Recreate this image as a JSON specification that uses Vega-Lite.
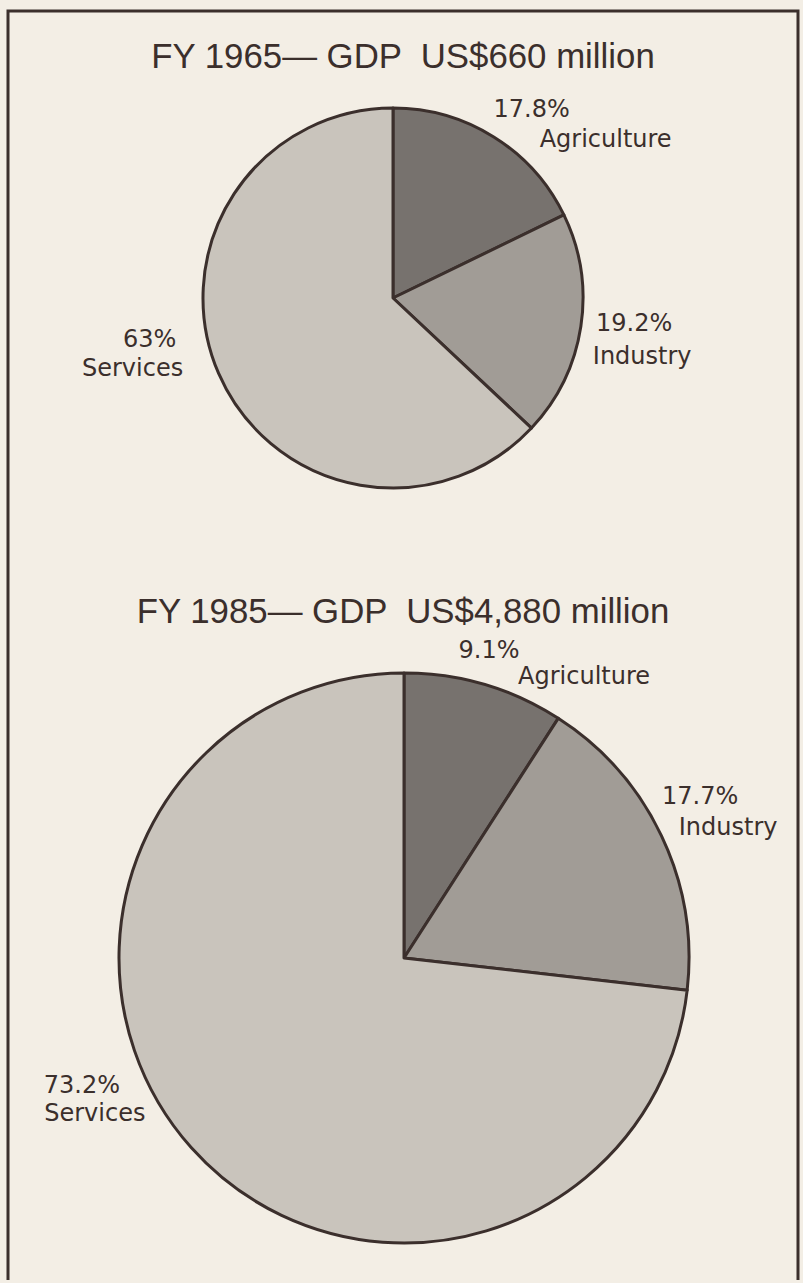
{
  "$schema": "https://vega.github.io/schema/vega-lite/v6.json",
  "width": 803,
  "height": 1283,
  "autosize": {"type": "fit", "contains": "padding"},
  "padding": {"left": 6, "top": 9, "right": 3, "bottom": 0},
  "background": "#f3eee5",
  "config": {
    "view": {"stroke": null},
    "text": {"color": "#3b2f2c"}
  },
  "datasets": {
    "gdp": [
      {"year": "FY 1965", "sector": "Agriculture", "share": 17.8, "pct": "17.8%"},
      {"year": "FY 1965", "sector": "Industry", "share": 19.2, "pct": "19.2%"},
      {"year": "FY 1965", "sector": "Services", "share": 63, "pct": "63%"},
      {"year": "FY 1985", "sector": "Agriculture", "share": 9.1, "pct": "9.1%"},
      {"year": "FY 1985", "sector": "Industry", "share": 17.7, "pct": "17.7%"},
      {"year": "FY 1985", "sector": "Services", "share": 73.2, "pct": "73.2%"}
    ],
    "titles": [
      {"year": "FY 1965", "title": "FY 1965— GDP \u00a0US$660 million"},
      {"year": "FY 1985", "title": "FY 1985— GDP \u00a0US$4,880 million"}
    ],
    "frame": [{"name": "border"}]
  },
  "layer": [
    {
      "data": {"name": "frame"},
      "mark": {"type": "rect", "fillOpacity": 0, "stroke": "#3b2f2c", "strokeWidth": 3, "strokeDash": [2059, 792, 1400, 1]},
      "encoding": {}
    },
    {
      "data": {"name": "gdp"},
      "transform": [{"filter": "datum.year === 'FY 1965'"}],
      "mark": {"type": "arc", "radius": 190, "xOffset": -10, "yOffset": -348, "stroke": "#3b2f2c", "strokeWidth": 3, "strokeJoin": "round"},
      "encoding": {
        "theta": {"field": "share", "type": "quantitative", "stack": true},
        "color": {"field": "sector", "type": "nominal", "scale": {"domain": ["Agriculture", "Industry", "Services"], "range": ["#77726e", "#a19c96", "#c9c4bc"]}, "legend": null},
        "order": {"field": "sector"}
      }
    },
    {
      "data": {"name": "gdp"},
      "transform": [{"filter": "datum.year === 'FY 1985'"}],
      "mark": {"type": "arc", "radius": 285, "xOffset": 1, "yOffset": 312, "stroke": "#3b2f2c", "strokeWidth": 3, "strokeJoin": "round"},
      "encoding": {
        "theta": {"field": "share", "type": "quantitative", "stack": true},
        "color": {"field": "sector", "type": "nominal", "legend": null},
        "order": {"field": "sector"}
      }
    },
    {
      "data": {"name": "gdp"},
      "transform": [{"filter": "datum.year === 'FY 1965'"}],
      "mark": {"type": "text", "radius": 250, "xOffset": -10, "yOffset": -348, "font": "DejaVu Sans", "fontSize": 24, "align": "center", "baseline": "middle",
        "dx": {"expr": "datum.sector === 'Agriculture' ? 6 : datum.sector === 'Industry' ? -6 : -14"},
        "dy": {"expr": "datum.sector === 'Agriculture' ? 24 : datum.sector === 'Industry' ? -12 : -57"}},
      "encoding": {
        "theta": {"field": "share", "type": "quantitative", "stack": true},
        "order": {"field": "sector"},
        "text": {"field": "pct"}
      }
    },
    {
      "data": {"name": "gdp"},
      "transform": [{"filter": "datum.year === 'FY 1965'"}],
      "mark": {"type": "text", "radius": 250, "xOffset": -10, "yOffset": -348, "font": "DejaVu Sans", "fontSize": 24, "align": "center", "baseline": "middle",
        "dx": {"expr": "datum.sector === 'Agriculture' ? 80 : datum.sector === 'Industry' ? 2 : -31"},
        "dy": {"expr": "datum.sector === 'Agriculture' ? 54 : datum.sector === 'Industry' ? 21 : -28"}},
      "encoding": {
        "theta": {"field": "share", "type": "quantitative", "stack": true},
        "order": {"field": "sector"},
        "text": {"field": "sector"}
      }
    },
    {
      "data": {"name": "gdp"},
      "transform": [{"filter": "datum.year === 'FY 1985'"}],
      "mark": {"type": "text", "radius": 330, "xOffset": 1, "yOffset": 312, "font": "DejaVu Sans", "fontSize": 24, "align": "center", "baseline": "middle",
        "dx": {"expr": "datum.sector === 'Agriculture' ? -8 : datum.sector === 'Industry' ? -2 : -76"},
        "dy": {"expr": "datum.sector === 'Agriculture' ? 10 : datum.sector === 'Industry' ? -20 : -92"}},
      "encoding": {
        "theta": {"field": "share", "type": "quantitative", "stack": true},
        "order": {"field": "sector"},
        "text": {"field": "pct"}
      }
    },
    {
      "data": {"name": "gdp"},
      "transform": [{"filter": "datum.year === 'FY 1985'"}],
      "mark": {"type": "text", "radius": 330, "xOffset": 1, "yOffset": 312, "font": "DejaVu Sans", "fontSize": 24, "align": "center", "baseline": "middle",
        "dx": {"expr": "datum.sector === 'Agriculture' ? 87 : datum.sector === 'Industry' ? 26 : -63"},
        "dy": {"expr": "datum.sector === 'Agriculture' ? 36 : datum.sector === 'Industry' ? 11 : -64"}},
      "encoding": {
        "theta": {"field": "share", "type": "quantitative", "stack": true},
        "order": {"field": "sector"},
        "text": {"field": "sector"}
      }
    },
    {
      "data": {"name": "titles"},
      "mark": {"type": "text", "font": "Liberation Sans", "fontSize": 34.8, "align": "center", "baseline": "alphabetic",
        "yOffset": {"expr": "datum.year === 'FY 1965' ? -578 : -23"}},
      "encoding": {
        "text": {"field": "title"}
      }
    }
  ]
}
